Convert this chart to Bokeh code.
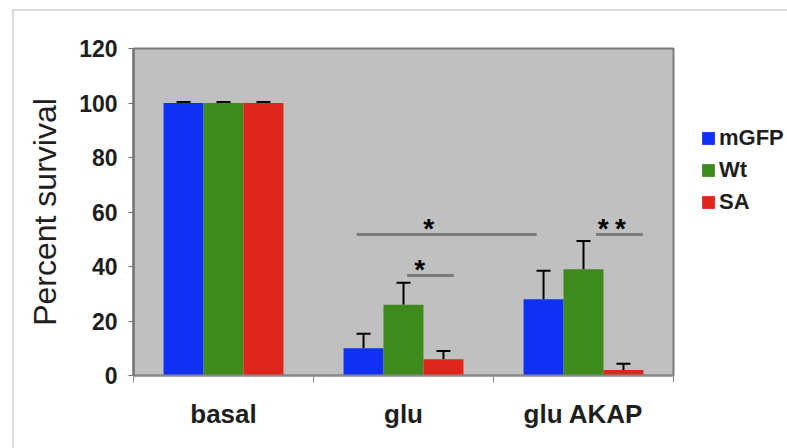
from bokeh.plotting import figure
from bokeh.layouts import row
from bokeh.models import (ColumnDataSource, FixedTicker, Range1d, Whisker, TeeHead,
                          Legend, LegendItem)
from bokeh.core.properties import value
from bokeh.embed import file_html
from bokeh.resources import INLINE

# ---- data ----
categories = ["basal", "glu", "glu AKAP"]
series = ["mGFP", "Wt", "SA"]
colors = ["#1030f5", "#3f8a1d", "#e0261c"]

mgfp = [100, 10, 28]
wt = [100, 26, 39]
sa = [100, 6, 2]
mgfp_err = [0.4, 5.3, 10.4]
wt_err = [0.4, 8.0, 10.4]
sa_err = [0.4, 3.0, 2.3]
y_ticks = [0, 20, 40, 60, 80, 100, 120]

# significance brackets (x in category units, y in percent)
sig_x0 = [1.24, 1.52, 2.57]
sig_x1 = [2.24, 1.78, 2.83]
sig_y = [51.7, 36.7, 51.7]
star_x = [1.64, 1.59, 2.61, 2.705]
star_y = [51.7, 36.7, 51.7, 51.7]
star_text = ["*", "*", "*", "*"]

FONT = "Liberation Sans"
TEXT = "#1e1e1e"
bar_w = 0.222
offsets = [-bar_w, 0.0, bar_w]
centers = [i + 0.5 for i in range(len(categories))]

p = figure(width=665, height=437, x_range=Range1d(0, 3), y_range=Range1d(0, 120),
           output_backend="svg", toolbar_location=None,
           min_border_left=119, min_border_right=6,
           min_border_top=37, min_border_bottom=73)

p.background_fill_color = "#c0c0c0"
p.border_fill_color = "white"
p.outline_line_color = "#7a7a7a"
p.outline_line_width = 2
p.xgrid.visible = False
p.ygrid.visible = False

sources = []
for vals, errs, col, off in zip([mgfp, wt, sa], [mgfp_err, wt_err, sa_err],
                                colors, offsets):
    xs = [c + off for c in centers]
    src = ColumnDataSource(dict(x=xs, top=vals,
                                upper=[v + e for v, e in zip(vals, errs)]))
    sources.append(src)
    p.vbar(x="x", top="top", width=bar_w, source=src,
           fill_color=col, line_color=None)
    w = Whisker(base="x", lower="top", upper="upper", source=src,
                line_color="black", line_width=2,
                upper_head=TeeHead(size=14, line_width=2, line_color="black"),
                lower_head=None)
    p.add_layout(w)

# significance lines and stars
p.segment(x0=sig_x0, y0=sig_y, x1=sig_x1, y1=sig_y,
          line_color="#7b7b7b", line_width=3)
p.text(x=star_x, y=star_y, text=star_text, text_font=value(FONT),
       text_font_size="28px", text_font_style="bold", text_color="black",
       text_align="center", text_baseline="alphabetic", y_offset=-6)

# x axis: labels at category centres, ticks between categories
p.xaxis.ticker = FixedTicker(ticks=centers, minor_ticks=[0, 1, 2, 3])
p.xaxis.major_label_overrides = {c: n for c, n in zip(centers, categories)}
p.xaxis.major_tick_out = 0
p.xaxis.major_tick_in = 0
p.xaxis.minor_tick_out = 7
p.xaxis.minor_tick_in = 0
p.xaxis.minor_tick_line_color = "#8a8a8a"
p.xaxis.axis_line_color = "#8a8a8a"
p.xaxis.axis_line_width = 2
p.xaxis.major_label_text_font = FONT
p.xaxis.major_label_text_font_size = "26px"
p.xaxis.major_label_text_font_style = "bold"
p.xaxis.major_label_text_color = TEXT
p.xaxis.major_label_standoff = 16

# y axis
p.yaxis.ticker = FixedTicker(ticks=y_ticks, minor_ticks=[])
p.yaxis.major_tick_out = 5
p.yaxis.major_tick_in = 0
p.yaxis.major_tick_line_color = "#707070"
p.yaxis.axis_line_color = "#707070"
p.yaxis.axis_line_width = 2
p.yaxis.major_label_text_font = FONT
p.yaxis.major_label_text_font_size = "23px"
p.yaxis.major_label_text_font_style = "bold"
p.yaxis.major_label_text_color = TEXT
p.yaxis.major_label_standoff = 11
p.yaxis.axis_label = "Percent survival"
p.yaxis.axis_label_text_font = FONT
p.yaxis.axis_label_text_font_size = "32px"
p.yaxis.axis_label_text_font_style = "normal"
p.yaxis.axis_label_text_color = TEXT
p.yaxis.axis_label_standoff = 13

# legend panel to the right of the plot area; its renderers are hidden so
# only the legend keys show
key = figure(width=108, height=437, x_range=Range1d(0, 3), y_range=Range1d(0, 120),
             output_backend="svg", toolbar_location=None, min_border=0)
key.axis.visible = False
key.grid.visible = False
key.outline_line_color = None
key.background_fill_color = "white"
key.border_fill_color = "white"
items = []
for name, col, src in zip(series, colors, sources):
    r = key.vbar(x="x", top="top", width=bar_w, source=src,
                 fill_color=col, line_color=None, visible=False)
    items.append(LegendItem(label=name, renderers=[r]))
legend = Legend(items=items, location=(21, 157), glyph_width=16, glyph_height=16,
                label_height=32, spacing=0, padding=0, margin=0,
                border_line_color=None, background_fill_alpha=0,
                label_text_font=FONT, label_text_font_size="22px",
                label_text_font_style="bold",
                label_text_color=TEXT, label_standoff=3)
key.add_layout(legend)

layout = row(p, key, spacing=0)
layout.margin = (9, 0, 0, 12)
layout.styles = {"border-top": "2px solid #dcdcdc", "border-left": "2px solid #dcdcdc"}

open("out.html", "w").write(file_html(layout, INLINE))
